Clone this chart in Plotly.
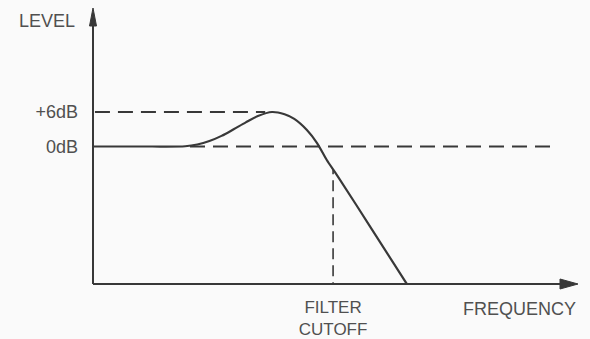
import numpy as np
import plotly.graph_objects as go

# Filter response: frequency in arbitrary linear units (0-100), level in dB
freq = [0.0, 11.8, 19.0, 21.5, 24.0, 26.5, 29.0, 31.5, 34.0, 36.9, 39.5, 41.5, 44.1, 46.2, 48.2, 50.3, 57.5, 64.7]
level = [0.0, 0.0, 0.05, 0.35, 0.95, 1.85, 3.0, 4.2, 5.3, 6.0, 5.6, 4.8, 2.87, 0.6, -2.35, -4.96, -14.4, -23.9]

# Reference levels and where their dashed guides run
ref_levels = [6, 0]
ref_labels = ["+6dB", "0dB"]
ref_start = [0.4, 20.0]
ref_end = [35.5, 95.0]

cutoff_freq = 49.5
cutoff_label = "FILTER<br>CUTOFF"

X_RANGE = [0, 100]
Y_RANGE = [-23.91, 24.09]

W, H = 590, 339
M = dict(l=93, r=12, t=8, b=55)
PW = W - M["l"] - M["r"]
PH = H - M["t"] - M["b"]

INK = "#383838"
TEXT = "#505050"
FONT = "Liberation Sans"
FS = 18

fig = go.Figure()

# response curve
fig.add_trace(go.Scatter(x=freq, y=level, mode="lines",
                         line=dict(color=INK, width=2.2, shape="spline", smoothing=0.8),
                         hoverinfo="skip", showlegend=False))

# dashed reference levels
for lv, x0, x1 in zip(ref_levels, ref_start, ref_end):
    fig.add_trace(go.Scatter(x=[x0, x1], y=[lv, lv], mode="lines",
                             line=dict(color=INK, width=1.8, dash="15px,8px"),
                             hoverinfo="skip", showlegend=False))

# dashed cutoff marker from below the axis up to the curve
cut_top = float(np.interp(cutoff_freq, freq, level))
fig.add_trace(go.Scatter(x=[cutoff_freq, cutoff_freq], y=[Y_RANGE[0] - 1.6, cut_top],
                         mode="lines", cliponaxis=False,
                         line=dict(color=INK, width=1.6, dash="11px,6px"),
                         hoverinfo="skip", showlegend=False))


def px_x(dx):
    return dx / PW


def px_y(dy):
    return dy / PH


# axes with arrowheads (paper coordinates)
shapes = [
    dict(type="line", xref="paper", yref="paper", x0=0, y0=0, x1=0, y1=1 - px_y(10),
         line=dict(color=INK, width=2)),
    dict(type="line", xref="paper", yref="paper", x0=0, y0=0, x1=1 - px_x(10), y1=0,
         line=dict(color=INK, width=2)),
    dict(type="path", xref="paper", yref="paper",
         path=f"M 0,1 L {-px_x(3.5)},{1 - px_y(18)} L {px_x(3.5)},{1 - px_y(18)} Z",
         fillcolor=INK, line=dict(color=INK, width=1)),
    dict(type="path", xref="paper", yref="paper",
         path=f"M 1,0 L {1 - px_x(18)},{px_y(5)} L {1 - px_x(18)},{-px_y(5)} Z",
         fillcolor=INK, line=dict(color=INK, width=1)),
]

annotations = [
    dict(text="LEVEL", xref="paper", yref="paper", x=0, y=1 - px_y(13),
         xanchor="right", yanchor="middle", xshift=-16, showarrow=False,
         font=dict(family=FONT, size=FS, color=TEXT)),
    dict(text="FREQUENCY", xref="paper", yref="paper", x=1, y=0,
         xanchor="right", yanchor="middle", yshift=-25, showarrow=False,
         font=dict(family=FONT, size=FS, color=TEXT)),
]

fig.update_layout(
    width=W, height=H, margin=M,
    paper_bgcolor="#fafafa", plot_bgcolor="#fafafa",
    shapes=shapes, annotations=annotations,
    xaxis=dict(range=X_RANGE, showgrid=False, zeroline=False, showline=False,
               automargin=False,
               tickvals=[cutoff_freq], ticktext=[cutoff_label], ticks="",
               ticklabelstandoff=11,
               tickfont=dict(family=FONT, size=17, color=TEXT)),
    yaxis=dict(range=Y_RANGE, showgrid=False, zeroline=False, showline=False,
               automargin=False,
               tickvals=ref_levels, ticktext=ref_labels, ticks="",
               ticklabelstandoff=14,
               tickfont=dict(family=FONT, size=FS, color=TEXT)),
)

fig.write_html("out.html")
